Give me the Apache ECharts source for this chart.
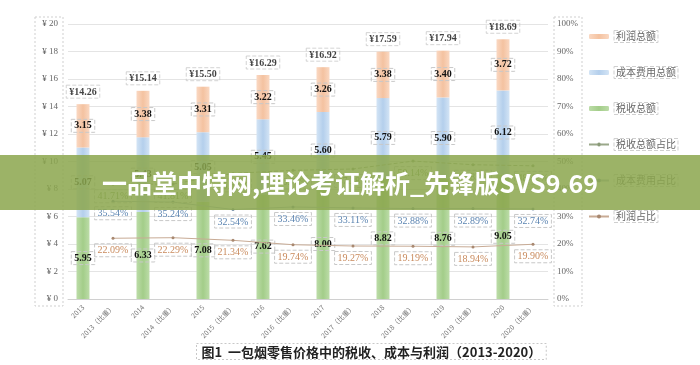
<!DOCTYPE html>
<html><head><meta charset="utf-8">
<script src="https://cdn.jsdelivr.net/npm/echarts@6/dist/echarts.min.js"></script>
<style>html,body{margin:0;padding:0;background:#fff}#c{width:700px;height:365px}</style>
</head><body><div id="c"></div>
<script>
var years = ['2013','2014','2015','2016','2017','2018','2019','2020'];
var taxVals = [5.95, 6.33, 7.08, 7.62, 8.00, 8.82, 8.76, 9.05];
var costVals = [5.07, 5.43, 5.05, 5.45, 5.60, 5.79, 5.90, 6.12];
var profitVals = [3.15, 3.38, 3.31, 3.22, 3.26, 3.38, 3.40, 3.72];
var totals = ['14.26','15.14','15.50','16.29','16.92','17.59','17.94','18.69'];
var taxShare = [41.71, 41.81, 45.68, 46.78, 47.28, 50.14, 48.83, 48.42];
var costShare = [35.54, 35.24, 32.54, 33.46, 33.11, 32.88, 32.89, 32.74];
var profitShare = [22.09, 22.29, 21.34, 19.74, 19.27, 19.19, 18.94, 19.90];
var leftTicks = {min: 0, max: 20, interval: 2};
var rightTicks = {min: 0, max: 100, interval: 10};

var categories = [];
years.forEach(function (y) { categories.push(y); categories.push(y + '（比重）'); });
function onYears(arr) { var o = []; arr.forEach(function (v) { o.push(v); o.push(null); }); return o; }
function onShares(arr) { var o = []; arr.forEach(function (v) { o.push(null); o.push(v); }); return o; }
var sums = taxVals.map(function (v, i) { return +(v + costVals[i] + profitVals[i]).toFixed(2); });

var serif = '"Liberation Serif","Times New Roman",serif';
var cjk = '"Noto Sans CJK SC",sans-serif';
var boxLabel = {borderColor: '#c8c8c8', borderType: 'dashed', borderWidth: 1, padding: [2, 3, 1, 3]};
function grad(edge, mid) {
  return new echarts.graphic.LinearGradient(0, 0, 1, 0, [{offset: 0, color: edge}, {offset: 0.5, color: mid}, {offset: 1, color: edge}]);
}
function barLabel() {
  return Object.assign({show: true, position: 'inside', color: '#111', fontFamily: serif, fontWeight: 'bold', fontSize: 10,
    formatter: function (p) { return p.value == null ? '' : p.value.toFixed(2); }}, boxLabel);
}
function lineLabel(color) {
  return Object.assign({show: true, position: 'bottom', distance: 4, color: color, fontFamily: serif, fontSize: 10,
    formatter: function (p) { return p.value == null ? '' : p.value.toFixed(2) + '%'; }}, boxLabel);
}

var chart = echarts.init(document.getElementById('c'), null, {renderer: 'canvas'});
chart.setOption({
  backgroundColor: '#fff',
  animation: false,
  grid: {left: 68, right: 152, top: 24, bottom: 66},
  legend: {
    orient: 'vertical', left: 583, top: 25, itemGap: 23, itemWidth: 20, itemHeight: 5,
    data: ['利润总额', '成本费用总额', '税收总额', '税收总额占比', '成本费用占比', '利润占比'],
    textStyle: {color: '#666', fontFamily: cjk, fontSize: 10, borderColor: '#cfcfcf', borderType: 'dashed', borderWidth: 1, padding: [1, 2, 1, 2]}
  },
  xAxis: {
    type: 'category', data: categories,
    axisLine: {lineStyle: {color: '#d0d0d0'}}, axisTick: {show: false},
    axisLabel: {interval: 0, rotate: 45, fontSize: 7, color: '#777', fontFamily: cjk, margin: 7}
  },
  yAxis: [
    {type: 'value', min: leftTicks.min, max: leftTicks.max, interval: leftTicks.interval,
      axisLine: {show: false}, axisTick: {show: false},
      axisLabel: {formatter: '¥ {value}', color: '#666', fontSize: 9, fontFamily: serif, margin: 10},
      splitLine: {lineStyle: {color: '#e4e4e4'}}},
    {type: 'value', min: rightTicks.min, max: rightTicks.max, interval: rightTicks.interval,
      axisLine: {show: false}, axisTick: {show: false}, splitLine: {show: false},
      axisLabel: {formatter: '{value}%', color: '#666', fontSize: 9, fontFamily: serif, margin: 9}}
  ],
  series: [
    {name: '税收总额', type: 'bar', stack: 't', barWidth: 13, data: onYears(taxVals),
      itemStyle: {color: grad('#bcdca8', '#a3cd89')}, label: barLabel()},
    {name: '成本费用总额', type: 'bar', stack: 't', barWidth: 13, data: onYears(costVals),
      itemStyle: {color: grad('#d3e4f5', '#b4cfec')}, label: barLabel()},
    {name: '利润总额', type: 'bar', stack: 't', barWidth: 13, data: onYears(profitVals),
      itemStyle: {color: grad('#fad8c2', '#f4c2a0')}, label: barLabel()},
    {name: '总计', type: 'scatter', data: onYears(sums), symbolSize: 0, silent: true,
      label: Object.assign({show: true, position: 'top', distance: 6, color: '#111', fontFamily: serif, fontWeight: 'bold', fontSize: 10,
        formatter: function (p) { return '¥' + totals[Math.floor(p.dataIndex / 2)]; }}, boxLabel)},
    {name: '税收总额占比', type: 'line', yAxisIndex: 1, connectNulls: true, data: onShares(taxShare),
      symbol: 'circle', symbolSize: 3, lineStyle: {width: 1, color: '#9aa88a', type: 'dashed'}, itemStyle: {color: '#8a9a78'},
      label: lineLabel('#7d9a5c')},
    {name: '成本费用占比', type: 'line', yAxisIndex: 1, connectNulls: true, data: onShares(costShare),
      symbol: 'circle', symbolSize: 3, lineStyle: {width: 1, color: '#a9b8c8'}, itemStyle: {color: '#7890a8'},
      label: lineLabel('#5b84b1')},
    {name: '利润占比', type: 'line', yAxisIndex: 1, connectNulls: true, data: onShares(profitShare),
      symbol: 'circle', symbolSize: 3, lineStyle: {width: 1, color: '#c8ab95'}, itemStyle: {color: '#a88870'},
      label: lineLabel('#c98a5c')}
  ],
  graphic: [
    {type: 'rect', shape: {x: 35, y: 17, width: 28, height: 289}, style: {fill: 'none', stroke: '#cfcfcf', lineDash: [2, 2], lineWidth: 1}, z: 1},
    {type: 'rect', shape: {x: 554, y: 17, width: 28, height: 289}, style: {fill: 'none', stroke: '#cfcfcf', lineDash: [2, 2], lineWidth: 1}, z: 1},
    {type: 'text', left: 196, top: 343, z: 5,
      style: {text: '图1  一包烟零售价格中的税收、成本与利润（2013-2020）', font: 'bold 13px "Noto Sans CJK SC", sans-serif', fill: '#222',
        borderColor: '#c8c8c8', borderWidth: 1, borderDash: [2, 2], padding: [2, 5, 1, 5]}},
    {type: 'rect', shape: {x: 0, y: 155, width: 700, height: 55}, style: {fill: 'rgba(140,166,78,0.86)'}, z: 100},
    {type: 'text', x: 350, y: 183, z: 101,
      style: {text: '一品堂中特网,理论考证解析_先锋版SVS9.69', font: 'bold 25px "Noto Sans CJK SC", sans-serif', fill: '#fff',
        align: 'center', verticalAlign: 'middle'}}
  ]
});
</script></body></html>
